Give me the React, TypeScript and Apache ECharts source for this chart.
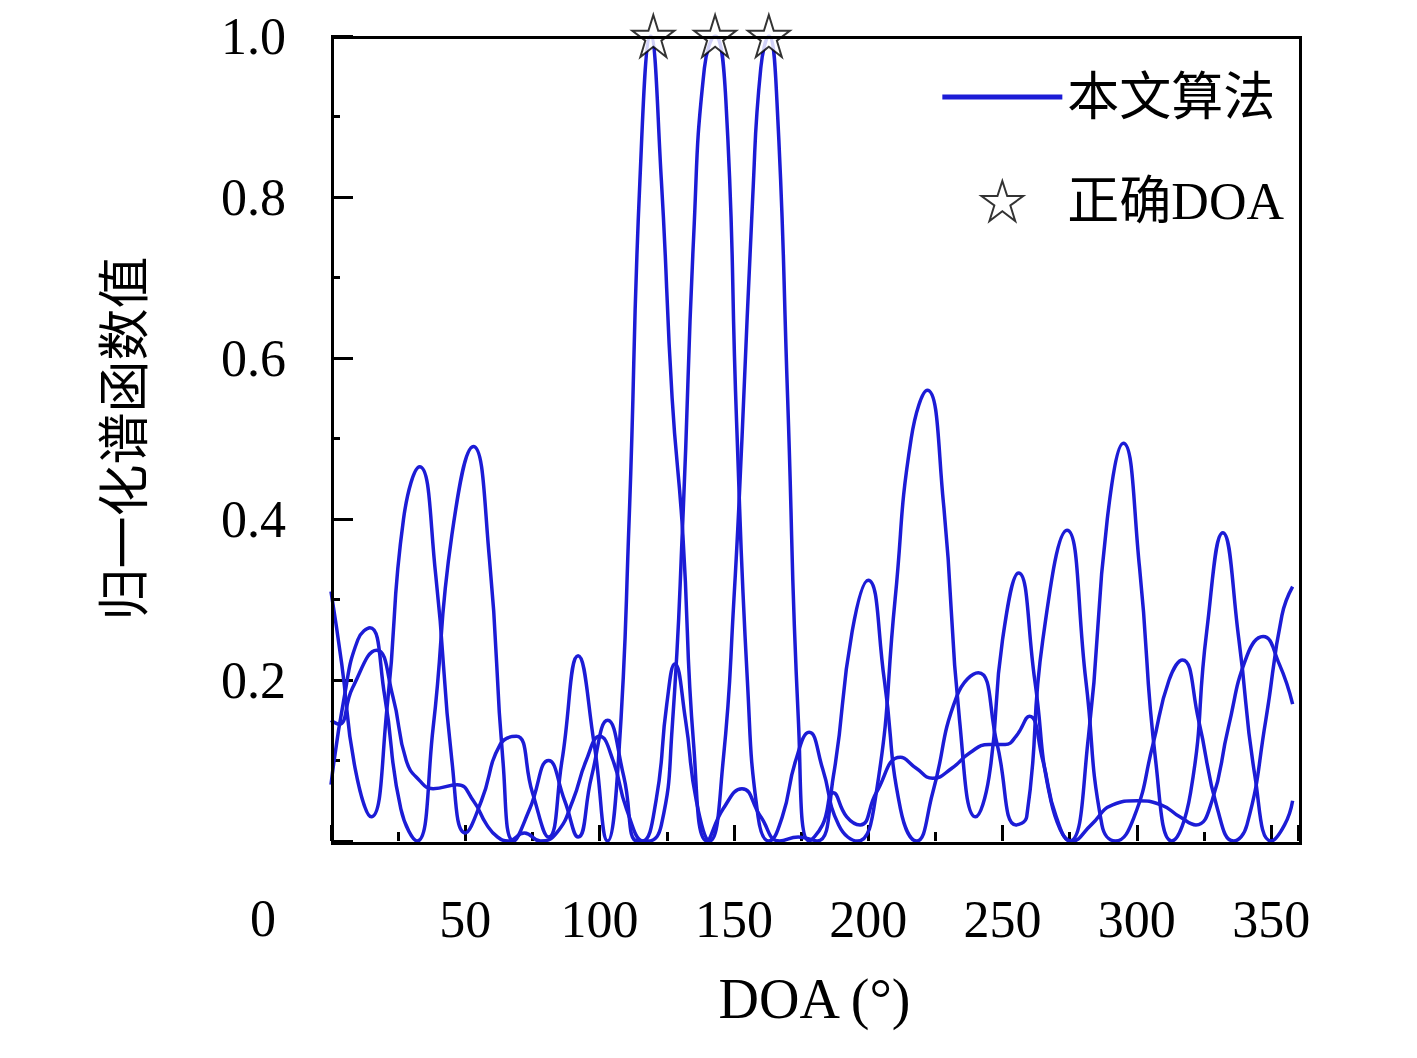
import React, { useRef, useEffect } from 'react';
import * as echarts from 'echarts';

// 三条空间谱曲线 [DOA(°), 归一化值]
const curveA: [number, number][] = [
  [0, 0.31], [4, 0.22], [9, 0.09], [15, 0.03], [21, 0.17], [27, 0.4], [33, 0.465], [39, 0.33],
  [45, 0.1], [50, 0.01], [56, 0.05], [63, 0.12], [69, 0.13], [75, 0.06], [81, 0.005], [86, 0.1],
  [92, 0.23], [98, 0.12], [103, 0.0], [107, 0.1], [111, 0.4], [115, 0.82], [119, 1.0],
  [123, 0.82], [127, 0.55], [131, 0.38], [135, 0.12], [140, 0.0], [146, 0.04], [153, 0.065],
  [160, 0.03], [167, 0.0], [174, 0.005], [181, 0.0], [187, 0.08], [194, 0.26], [200, 0.324],
  [206, 0.2], [212, 0.04], [218, 0.0], [224, 0.06], [233, 0.18], [241, 0.209], [248, 0.12],
  [255, 0.02], [259, 0.03], [265, 0.25], [274, 0.386], [281, 0.2], [287, 0.02], [292, 0.0],
  [299, 0.03], [306, 0.12], [312, 0.2], [317, 0.225], [323, 0.15], [330, 0.04], [336, 0.0],
  [341, 0.02], [348, 0.15], [354, 0.28], [358, 0.316],
];
const curveB: [number, number][] = [
  [0, 0.07], [5, 0.18], [10, 0.25], [14.5, 0.265], [20, 0.18], [26, 0.04], [32, 0.0],
  [38, 0.14], [45, 0.38], [53, 0.49], [59, 0.35], [64, 0.1], [68, 0.0], [74, 0.04],
  [81, 0.1], [87, 0.05], [92, 0.005], [97, 0.08], [103, 0.15], [109, 0.08], [114, 0.0],
  [118, 0.0], [123, 0.02], [127, 0.14], [131, 0.4], [135, 0.75], [139, 0.96], [143, 1.0],
  [147, 0.92], [151, 0.52], [155, 0.2], [159, 0.03], [163, 0.0], [168, 0.03], [173, 0.1],
  [178, 0.135], [183, 0.09], [189, 0.02], [196, 0.0], [203, 0.06], [210, 0.3], [216, 0.5],
  [222, 0.56], [228, 0.42], [234, 0.15], [240, 0.03], [245, 0.08], [250, 0.25], [256, 0.333],
  [262, 0.2], [268, 0.05], [275, 0.0], [282, 0.13], [289, 0.4], [295, 0.494], [301, 0.34],
  [307, 0.1], [313, 0.0], [320, 0.06], [326, 0.26], [332, 0.383], [338, 0.25], [344, 0.08],
  [350, 0.0], [355, 0.02], [358, 0.05],
];
const curveC: [number, number][] = [
  [0, 0.15], [3, 0.145], [8, 0.19], [17, 0.237], [23, 0.18], [28, 0.1], [33, 0.075], [38, 0.065],
  [47, 0.07], [53, 0.05], [58, 0.02], [62, 0.005], [66, 0.0], [72, 0.01], [78, 0.0], [84, 0.01],
  [90, 0.05], [95, 0.1], [100, 0.13], [105, 0.1], [110, 0.04], [116, 0.0], [121, 0.05],
  [125, 0.17], [128, 0.22], [132, 0.15], [136, 0.05], [141, 0.0], [146, 0.1], [150, 0.3],
  [153, 0.5], [157, 0.8], [160, 0.96], [163, 1.0], [166, 0.92], [170, 0.55], [174, 0.15],
  [178, 0.0], [183, 0.02], [187, 0.06], [192, 0.03], [197, 0.02], [203, 0.06], [212, 0.104],
  [218, 0.09], [224, 0.078], [231, 0.09], [238, 0.11], [245, 0.12], [251, 0.12], [255, 0.13],
  [260, 0.155], [265, 0.1], [270, 0.03], [276, 0.0], [283, 0.02], [291, 0.045], [300, 0.05],
  [309, 0.045], [316, 0.03], [322, 0.02], [328, 0.05], [334, 0.14], [341, 0.23], [347, 0.254],
  [353, 0.22], [358, 0.17],
];
const trueDOA = [120, 143, 163];
const xTicks = [0, 50, 100, 150, 200, 250, 300, 350];

const STAR = 'path://M50,2 L61,36 L97,36 L68,57 L79,92 L50,70 L21,92 L32,57 L3,36 L39,36 Z';
const SERIF = '"Liberation Serif", "DejaVu Serif", serif';
const CJK = '"Liberation Serif", "Noto Sans CJK SC", serif';

export default function App() {
  const ref = useRef<HTMLDivElement>(null);

  useEffect(() => {
    if (!ref.current) return;
    const chart = echarts.init(ref.current, undefined, { renderer: 'svg' });
    const line = (data: [number, number][]) => ({
      name: '本文算法',
      type: 'line',
      data,
      smooth: 0.5,
      symbol: 'none',
      lineStyle: { color: '#1c1cd6', width: 3.5 },
      itemStyle: { color: '#1c1cd6' },
      z: 2,
    });
    chart.setOption({
      animation: false,
      backgroundColor: '#fff',
      grid: { left: 323, right: 111, top: 28, bottom: 209 },
      legend: {
        right: 120,
        top: 58,
        orient: 'vertical',
        itemWidth: 120,
        itemHeight: 40,
        itemGap: 52,
        textStyle: { fontFamily: CJK, fontSize: 52, color: '#000' },
        data: [
          { name: '本文算法', icon: 'path://M0,48 L100,48 L100,52 L0,52 Z', itemStyle: { color: '#1c1cd6' } },
          { name: '正确DOA', icon: STAR },
        ],
      },
      xAxis: {
        type: 'value',
        min: 0,
        max: 360,
        interval: 50,
        name: 'DOA (°)',
        nameLocation: 'middle',
        nameGap: 130,
        nameTextStyle: { fontFamily: SERIF, fontSize: 56, color: '#000' },
        axisLine: { show: false },
        axisTick: { inside: true, length: 16, lineStyle: { color: '#000', width: 3 } },
        minorTick: { show: true, splitNumber: 2, length: 9, lineStyle: { color: '#000', width: 3 } },
        axisLabel: {
          fontFamily: SERIF, fontSize: 52, color: '#000', margin: 52,
          formatter: (v: number) => (xTicks.includes(v) && v !== 0 ? String(v) : ''),
        },
        splitLine: { show: false },
      },
      yAxis: {
        type: 'value',
        min: 0,
        max: 1,
        interval: 0.2,
        name: '归一化谱函数值',
        nameLocation: 'middle',
        nameGap: 180,
        nameTextStyle: { fontFamily: CJK, fontSize: 52, color: '#000' },
        axisLine: { show: false },
        axisTick: { inside: true, length: 22, lineStyle: { color: '#000', width: 3 } },
        minorTick: { show: true, splitNumber: 2, length: 9, lineStyle: { color: '#000', width: 3 } },
        axisLabel: {
          fontFamily: SERIF, fontSize: 52, color: '#000', margin: 45,
          formatter: (v: number) => (v === 0 ? '' : v.toFixed(1)),
        },
        splitLine: { show: false },
      },
      graphic: [
        { type: 'text', left: 242, top: 884, style: { text: '0', font: `52px ${SERIF}`, fill: '#000' } },
        {
          type: 'rect', left: 322, top: 27, shape: { width: 968, height: 806 },
          style: { fill: 'none', stroke: '#000', lineWidth: 3 }, silent: true, z: 10,
        },
      ],
      series: [
        line(curveA),
        line(curveB),
        line(curveC),
        {
          name: '正确DOA',
          type: 'scatter',
          data: trueDOA.map((x) => [x, 1]),
          symbol: STAR,
          symbolSize: 42,
          itemStyle: { color: '#fff', borderColor: '#000', borderWidth: 2 },
          z: 5,
        },
      ],
    });
    return () => chart.dispose();
  }, []);

  return <div ref={ref} style={{ width: 1401, height: 1042 }} />;
}
